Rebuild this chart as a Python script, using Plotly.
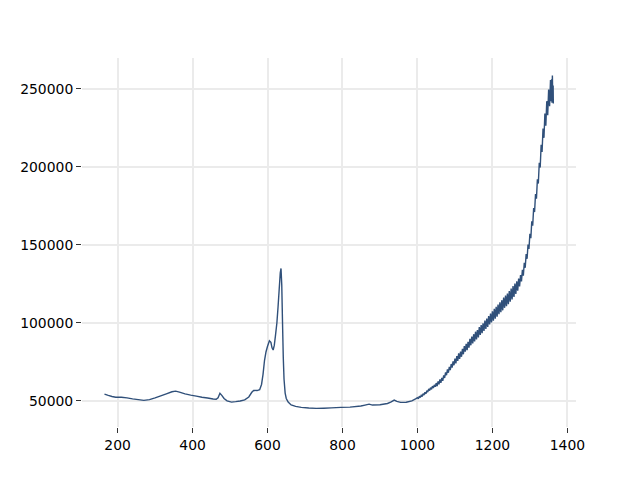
import plotly.graph_objects as go

# Low-noise part of the spectrum (wavenumber, intensity)
x_low = [165, 175, 185, 195, 210, 225, 240, 255, 270, 285, 300, 315, 330, 345, 355,
         365, 380, 395, 410, 425, 440, 455, 463, 468, 473, 478, 484, 492, 504, 515,
         527, 539, 550, 558, 563, 572, 579, 584, 588, 592, 596, 600, 605, 609, 612,
         615, 618, 621, 625, 628, 631, 634, 636, 638, 640, 642, 644, 647, 650, 655,
         663, 675, 690, 710, 730, 750, 770, 796, 820, 849, 860, 871, 880, 900, 920,
         930, 938, 945, 955, 970, 985, 995]
y_low = [54300, 53500, 52800, 52300, 52300, 51900, 51300, 50800, 50300, 50800, 51900, 53200, 54500, 55800, 56200,
         55600, 54500, 53700, 53000, 52300, 51800, 51200, 51000, 52000, 54900, 53500, 51500, 50000, 49200, 49500,
         49900, 50600, 52500, 55500, 56700, 56600, 57200, 60500, 67000, 76000, 81500, 85000, 88500, 87500, 84000,
         82600, 85500, 91500, 100000, 110000, 121000, 132000, 134800, 124000, 100000, 78000, 64000, 55000, 51500, 49200,
         47400, 46500, 45800, 45400, 45200, 45300, 45500, 45800, 46000, 46700, 47300, 47900, 47300, 47500, 48300,
         49300, 50500, 49700, 49000, 49100, 50000, 51300]

# Noisy high-wavenumber part (read point by point)
x_high = [1000, 1002.5, 1005, 1007.5, 1010, 1012.5, 1015, 1017.5, 1020, 1022.5, 1025, 1027.5, 1030, 1032.5,
          1035, 1037.5, 1040, 1042.5, 1045, 1047.5, 1050, 1052.5, 1055, 1057.5, 1060, 1062.5, 1065, 1067.5,
          1070, 1072.5, 1075, 1077.5, 1080, 1082.5, 1085, 1087.5, 1090, 1092.5, 1095, 1097.5, 1100, 1102.5,
          1105, 1107.5, 1110, 1112.5, 1115, 1117.5, 1120, 1122.5, 1125, 1127.5, 1130, 1132.5, 1135, 1137.5,
          1140, 1142.5, 1145, 1147.5, 1150, 1152.5, 1155, 1157.5, 1160, 1162.5, 1165, 1167.5, 1170, 1172.5,
          1175, 1177.5, 1180, 1182.5, 1185, 1187.5, 1190, 1192.5, 1195, 1197.5, 1200, 1202.5, 1205, 1207.5,
          1210, 1212.5, 1215, 1217.5, 1220, 1222.5, 1225, 1227.5, 1230, 1232.5, 1235, 1237.5, 1240, 1242.5,
          1245, 1247.5, 1250, 1252.5, 1255, 1257.5, 1260, 1262.5, 1265, 1267.5, 1270, 1272.5, 1275, 1277.5,
          1280, 1282.5, 1285, 1287.5, 1290, 1292.5, 1295, 1297.5, 1300, 1302.5, 1305, 1307.5, 1310, 1312.5,
          1315, 1317.5, 1320, 1322.5, 1325, 1327.5, 1330, 1332.5, 1335, 1337.5, 1340, 1342.5, 1345, 1347.5,
          1350, 1352.5, 1355, 1356.5, 1358, 1359, 1360, 1361, 1362, 1362.5]
y_high = [52100, 51300, 53000, 52150, 53500, 52750, 54600, 53750, 55500, 54500, 56500, 55600, 57700, 56600,
          58500, 57400, 59400, 58200, 60200, 59000, 61400, 59400, 62500, 60550, 63700, 61550, 64700, 62800,
          66300, 64700, 68200, 66400, 70100, 68000, 71800, 69700, 73600, 71300, 75300, 72800, 77100, 73950,
          78700, 75550, 80400, 76950, 81600, 78250, 83300, 79850, 85100, 81450, 86500, 82550, 87800, 84150,
          89700, 85600, 91200, 86800, 92700, 88100, 94300, 89400, 95400, 90600, 97200, 92250, 98600, 93350,
          99700, 94800, 101500, 96100, 102700, 97300, 104300, 98900, 105900, 100200, 107400, 101400, 108900, 102700,
          110200, 103900, 111700, 105500, 113200, 106800, 114500, 108000, 116200, 109600, 117500, 110700, 118800, 112000,
          120400, 113600, 121900, 114950, 123500, 116550, 125100, 118500, 126600, 120600, 128300, 123300, 130600, 126500,
          134000, 130250, 138500, 135250, 144000, 141000, 150200, 147300, 157000, 154250, 165000, 162250, 173500, 171000,
          182500, 179500, 192000, 189250, 202500, 199500, 214000, 209500, 224500, 218500, 234000, 226250, 242000, 233000,
          249500, 238750, 255500, 242000, 256000, 241000, 258500, 243000, 252000, 240500]

x_vals = x_low + x_high
y_vals = y_low + y_high

x_ticks = [200, 400, 600, 800, 1000, 1200, 1400]
y_ticks = [50000, 100000, 150000, 200000, 250000]

fig = go.Figure()
fig.add_trace(go.Scatter(x=x_vals, y=y_vals, mode="lines",
                         line=dict(color="#30507a", width=1.4, simplify=False),
                         showlegend=False))

axis_common = dict(showline=False, zeroline=False, showgrid=True,
                   gridcolor="#ebebeb", gridwidth=1.5,
                   ticks="outside", ticklen=5, tickwidth=1, tickcolor="#333333",
                   tickfont=dict(family="DejaVu Sans", size=13.9, color="black"))

fig.update_layout(
    width=640, height=480,
    margin=dict(l=72, r=72, t=50, b=61, pad=0),
    paper_bgcolor="white", plot_bgcolor="white",
    xaxis=dict(range=[105, 1423], tickvals=x_ticks,
               ticktext=[str(v) for v in x_ticks], **axis_common),
    yaxis=dict(range=[33250, 269650], tickvals=y_ticks,
               ticktext=[str(v) for v in y_ticks], **axis_common),
)

fig.write_html("out.html")
